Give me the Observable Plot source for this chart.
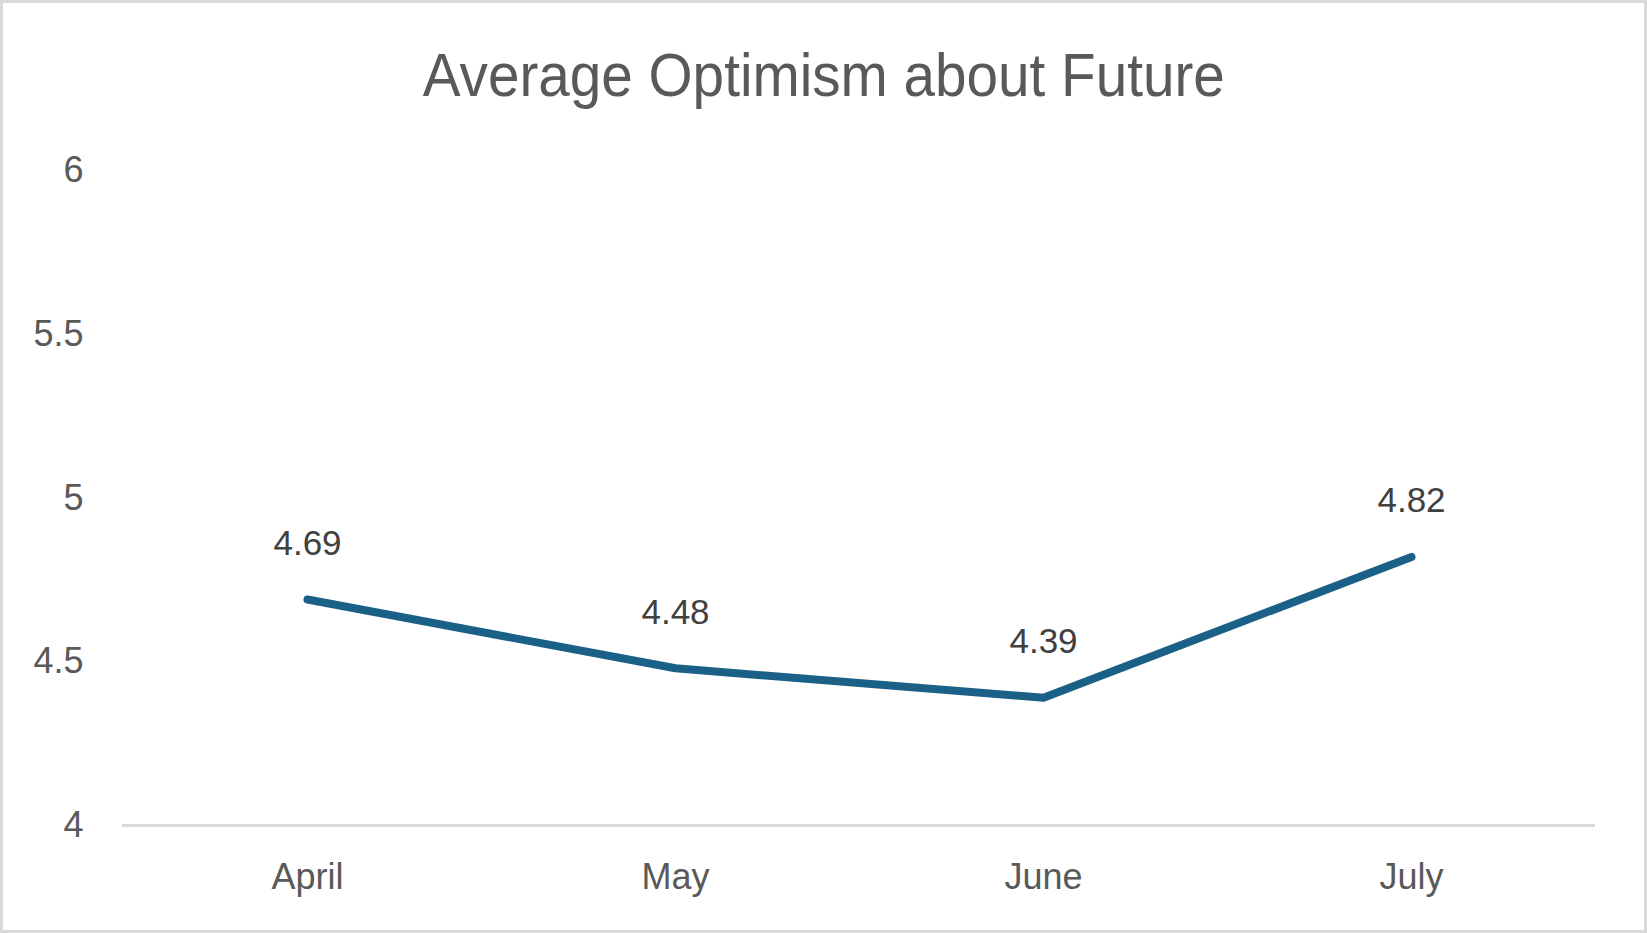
<!DOCTYPE html>
<html>
<head>
<meta charset="utf-8">
<script src="https://cdn.jsdelivr.net/npm/d3@7"></script>
<script src="https://cdn.jsdelivr.net/npm/@observablehq/plot@0.6"></script>
<style>
  html, body { margin: 0; padding: 0; background: #fff; }
  #wrap { position: relative; width: 1647px; height: 933px; overflow: hidden; background: #fff; }
  #title { position: absolute; left: 0; top: 44px; width: 1647px; text-align: center;
           font-family: "Liberation Sans Narrow", "Arial Narrow", "Liberation Sans", sans-serif;
           font-size: 62px; color: #595959; line-height: 1; white-space: nowrap; }
  #title span { display: inline-block; transform-origin: center; }
  #chart { position: absolute; left: 0; top: 0; }
  #border { position: absolute; left: 0; top: 0; width: 1647px; height: 933px; box-sizing: border-box;
            border: 3px solid #d9d9d9; pointer-events: none; }
</style>
</head>
<body>
<div id="wrap">
  <div id="chart"></div>
  <div id="title"><span>Average Optimism about Future</span></div>
  <div id="border"></div>
</div>
<script>
const months = ["April", "May", "June", "July"];
const optimism = [4.69, 4.48, 4.39, 4.82];
const yTicks = [4, 4.5, 5, 5.5, 6];

const data = months.map((m, i) => ({month: m, value: optimism[i]}));

const chart = Plot.plot({
  width: 1647,
  height: 933,
  marginLeft: 122,
  marginRight: 52,
  marginTop: 170,
  marginBottom: 108,
  style: {fontFamily: "'Liberation Sans', Arial, sans-serif", background: "transparent", overflow: "visible"},
  x: {type: "point", domain: months, padding: 0.5, label: null},
  y: {domain: [4, 6], label: null},
  marks: [
    Plot.ruleY([4], {stroke: "#d9d9d9", strokeWidth: 3}),
    Plot.axisY({ticks: yTicks, tickFormat: d => String(d), tickSize: 0, tickPadding: 39, fontSize: 36, fill: "#595959", label: null}),
    Plot.axisX({tickSize: 0, tickPadding: 38, fontSize: 36, fill: "#595959", label: null}),
    Plot.line(data, {x: "month", y: "value", stroke: "#1b6086", strokeWidth: 8, strokeLinecap: "round", strokeLinejoin: "round"}),
    Plot.text(data, {x: "month", y: "value", text: d => d.value.toFixed(2), dy: -56, fontSize: 35, fill: "#404040", lineAnchor: "middle"})
  ]
});
document.getElementById("chart").appendChild(chart);

// fit title width to the reference (~802px wide)
const span = document.querySelector("#title span");
const w = span.getBoundingClientRect().width;
if (w > 0) span.style.transform = `scaleX(${802 / w})`;
</script>
</body>
</html>
